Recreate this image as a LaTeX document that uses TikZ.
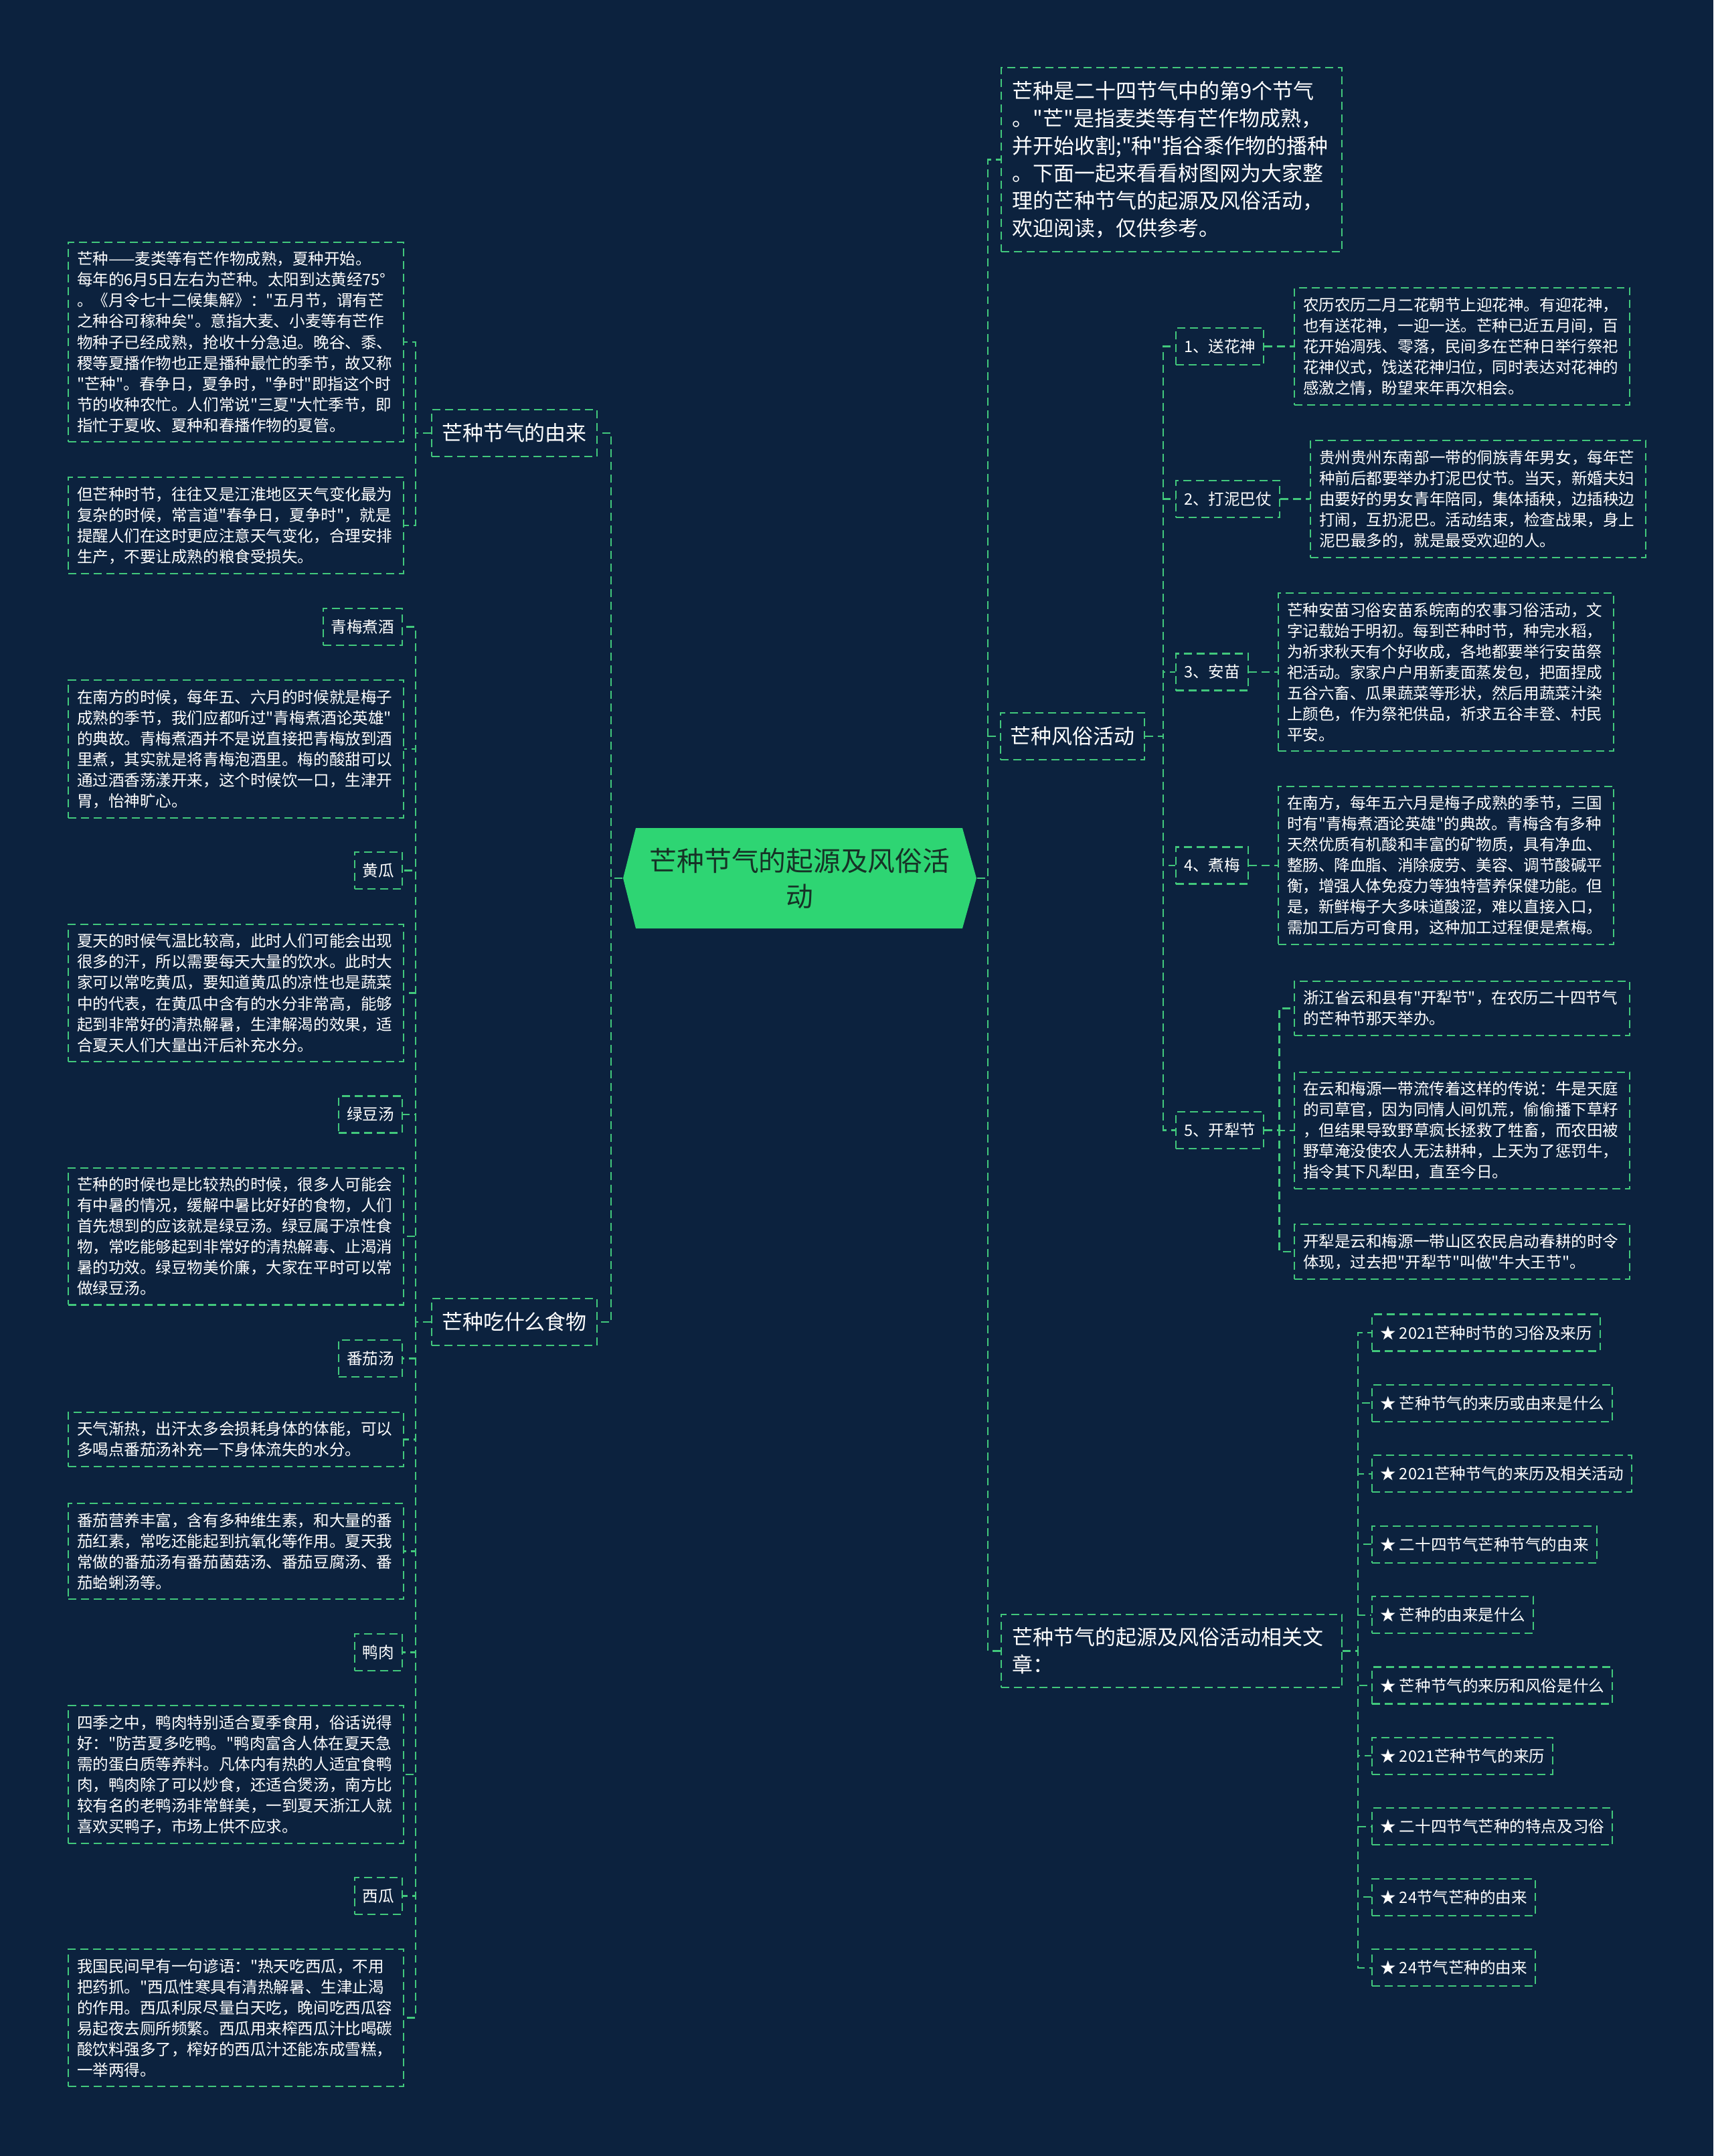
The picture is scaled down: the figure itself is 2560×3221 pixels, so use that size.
\documentclass[tikz,border=0pt]{standalone}
\usepackage{fontspec}
\newfontfamily\cjk{Noto Sans CJK SC}
\definecolor{bgcol}{RGB}{12,34,62}
\definecolor{lineg}{RGB}{66,200,124}
\definecolor{rootfill}{RGB}{46,213,115}
\definecolor{roottxt}{RGB}{22,50,38}
\tikzset{
  link/.style={draw=lineg,line width=0.6pt,dash pattern=on 3.4pt off 2pt},
  txtbox/.style={link,text=white,anchor=west,align=left,text width=4.75cm,inner xsep=0.13cm,inner ysep=0.14cm,font=\cjk\fontsize{6.7}{8.82}\selectfont},
  lbl/.style={link,text=white,inner xsep=0.12cm,inner ysep=0cm,minimum height=0.55cm,font=\cjk\fontsize{6.7}{8.82}\selectfont},
  topic/.style={link,text=white,inner xsep=0.15cm,inner ysep=0cm,minimum height=0.7cm,font=\cjk\fontsize{8.8}{11.67}\selectfont},
  bigbox/.style={link,text=white,align=left,text width=4.75cm,inner xsep=0.17cm,inner ysep=0.2cm,font=\cjk\fontsize{8.8}{11.67}\selectfont}
}
\begin{document}
\begin{tikzpicture}[x=0.01cm,y=-0.01cm]
\useasboundingbox (0,0) rectangle (2560,3221);
\fill[bgcol] (0,0) rectangle (2560,3221);
% centre
\fill[rootfill] (931,1312) -- (950,1237) -- (1438,1237) -- (1459,1312) -- (1438,1387) -- (950,1387) -- cycle;
\node[text=roottxt,align=center,minimum width=5.28cm,minimum height=1.5cm,inner sep=0pt,font=\cjk\fontsize{11.6}{15.1}\selectfont] (root) at (1195,1312) {芒种节气的起源及风俗活\\动};

% gauche : origine
\node[topic] (youlai) at (768.5,647) {芒种节气的由来};
\node[txtbox] (yl1) at (101,511) {芒种——麦类等有芒作物成熟，夏种开始。\\每年的6月5日左右为芒种。太阳到达黄经75°\\。《月令七十二候集解》："五月节，谓有芒\\之种谷可稼种矣"。意指大麦、小麦等有芒作\\物种子已经成熟，抢收十分急迫。晚谷、黍、\\稷等夏播作物也正是播种最忙的季节，故又称\\"芒种"。春争日，夏争时，"争时"即指这个时\\节的收种农忙。人们常说"三夏"大忙季节，即\\指忙于夏收、夏种和春播作物的夏管。};
\node[txtbox] (yl2) at (101,785) {但芒种时节，往往又是江淮地区天气变化最为\\复杂的时候，常言道"春争日，夏争时"，就是\\提醒人们在这时更应注意天气变化，合理安排\\生产，不要让成熟的粮食受损失。};

% gauche : nourriture
\node[topic] (shiwu) at (768.5,1975) {芒种吃什么食物};
\node[lbl,anchor=east] (qm) at (602,936.5) {青梅煮酒};
\node[txtbox] (qmt) at (101,1119) {在南方的时候，每年五、六月的时候就是梅子\\成熟的季节，我们应都听过"青梅煮酒论英雄"\\的典故。青梅煮酒并不是说直接把青梅放到酒\\里煮，其实就是将青梅泡酒里。梅的酸甜可以\\通过酒香荡漾开来，这个时候饮一口，生津开\\胃，怡神旷心。};
\node[lbl,anchor=east] (hg) at (602,1300.5) {黄瓜};
\node[txtbox] (hgt) at (101,1483.5) {夏天的时候气温比较高，此时人们可能会出现\\很多的汗，所以需要每天大量的饮水。此时大\\家可以常吃黄瓜，要知道黄瓜的凉性也是蔬菜\\中的代表，在黄瓜中含有的水分非常高，能够\\起到非常好的清热解暑，生津解渴的效果，适\\合夏天人们大量出汗后补充水分。};
\node[lbl,anchor=east] (ld) at (602,1665) {绿豆汤};
\node[txtbox] (ldt) at (101,1847) {芒种的时候也是比较热的时候，很多人可能会\\有中暑的情况，缓解中暑比好好的食物，人们\\首先想到的应该就是绿豆汤。绿豆属于凉性食\\物，常吃能够起到非常好的清热解毒、止渴消\\暑的功效。绿豆物美价廉，大家在平时可以常\\做绿豆汤。};
\node[lbl,anchor=east] (fq) at (602,2029.5) {番茄汤};
\node[txtbox] (fqt) at (101,2150.5) {天气渐热，出汗太多会损耗身体的体能，可以\\多喝点番茄汤补充一下身体流失的水分。};
\node[txtbox] (fqt2) at (101,2317.5) {番茄营养丰富，含有多种维生素，和大量的番\\茄红素，常吃还能起到抗氧化等作用。夏天我\\常做的番茄汤有番茄菌菇汤、番茄豆腐汤、番\\茄蛤蜊汤等。};
\node[lbl,anchor=east] (yr) at (602,2468.5) {鸭肉};
\node[txtbox] (yrt) at (101,2651) {四季之中，鸭肉特别适合夏季食用，俗话说得\\好："防苦夏多吃鸭。"鸭肉富含人体在夏天急\\需的蛋白质等养料。凡体内有热的人适宜食鸭\\肉，鸭肉除了可以炒食，还适合煲汤，南方比\\较有名的老鸭汤非常鲜美，一到夏天浙江人就\\喜欢买鸭子，市场上供不应求。};
\node[lbl,anchor=east] (xg) at (602,2832.5) {西瓜};
\node[txtbox] (xgt) at (101,3014.5) {我国民间早有一句谚语："热天吃西瓜，不用\\把药抓。"西瓜性寒具有清热解暑、生津止渴\\的作用。西瓜利尿尽量白天吃，晚间吃西瓜容\\易起夜去厕所频繁。西瓜用来榨西瓜汁比喝碳\\酸饮料强多了，榨好的西瓜汁还能冻成雪糕，\\一举两得。};

% droite
\node[bigbox] (intro) at (1750.5,238.5) {芒种是二十四节气中的第9个节气\\。"芒"是指麦类等有芒作物成熟，\\并开始收割;"种"指谷黍作物的播种\\。下面一起来看看树图网为大家整\\理的芒种节气的起源及风俗活动，\\欢迎阅读，仅供参考。};
\node[topic] (fengsu) at (1602.5,1100) {芒种风俗活动};
\node[bigbox] (xiangguan) at (1750.5,2466.5) {芒种节气的起源及风俗活动相关文\\章：};

\node[lbl,anchor=west] (ss1) at (1756,517.5) {1、送花神};
\node[txtbox] (ss1t) at (1933,517.5) {农历农历二月二花朝节上迎花神。有迎花神，\\也有送花神，一迎一送。芒种已近五月间，百\\花开始凋残、零落，民间多在芒种日举行祭祀\\花神仪式，饯送花神归位，同时表达对花神的\\感激之情，盼望来年再次相会。};
\node[lbl,anchor=west] (ss2) at (1756,745.5) {2、打泥巴仗};
\node[txtbox] (ss2t) at (1957,745.5) {贵州贵州东南部一带的侗族青年男女，每年芒\\种前后都要举办打泥巴仗节。当天，新婚夫妇\\由要好的男女青年陪同，集体插秧，边插秧边\\打闹，互扔泥巴。活动结束，检查战果，身上\\泥巴最多的，就是最受欢迎的人。};
\node[lbl,anchor=west] (ss3) at (1756,1004) {3、安苗};
\node[txtbox] (ss3t) at (1909,1004) {芒种安苗习俗安苗系皖南的农事习俗活动，文\\字记载始于明初。每到芒种时节，种完水稻，\\为祈求秋天有个好收成，各地都要举行安苗祭\\祀活动。家家户户用新麦面蒸发包，把面捏成\\五谷六畜、瓜果蔬菜等形状，然后用蔬菜汁染\\上颜色，作为祭祀供品，祈求五谷丰登、村民\\平安。};
\node[lbl,anchor=west] (ss4) at (1756,1293) {4、煮梅};
\node[txtbox] (ss4t) at (1909,1293) {在南方，每年五六月是梅子成熟的季节，三国\\时有"青梅煮酒论英雄"的典故。青梅含有多种\\天然优质有机酸和丰富的矿物质，具有净血、\\整肠、降血脂、消除疲劳、美容、调节酸碱平\\衡，增强人体免疫力等独特营养保健功能。但\\是，新鲜梅子大多味道酸涩，难以直接入口，\\需加工后方可食用，这种加工过程便是煮梅。};
\node[lbl,anchor=west] (ss5) at (1756,1688.5) {5、开犁节};
\node[txtbox] (ss5a) at (1933,1506.5) {浙江省云和县有"开犁节"，在农历二十四节气\\的芒种节那天举办。};
\node[txtbox] (ss5b) at (1933,1689) {在云和梅源一带流传着这样的传说：牛是天庭\\的司草官，因为同情人间饥荒，偷偷播下草籽\\，但结果导致野草疯长拯救了牲畜，而农田被\\野草淹没使农人无法耕种，上天为了惩罚牛，\\指令其下凡犁田，直至今日。};
\node[txtbox] (ss5c) at (1933,1870) {开犁是云和梅源一带山区农民启动春耕的时令\\体现，过去把"开犁节"叫做"牛大王节"。};

\foreach \txt [count=\i] in {★ 2021芒种时节的习俗及来历,★ 芒种节气的来历或由来是什么,★ 2021芒种节气的来历及相关活动,★ 二十四节气芒种节气的由来,★ 芒种的由来是什么,★ 芒种节气的来历和风俗是什么,★ 2021芒种节气的来历,★ 二十四节气芒种的特点及习俗,★ 24节气芒种的由来,★ 24节气芒种的由来}
  \node[lbl,anchor=west] (rel\i) at (2049,{1991+105.4*(\i-1)}) {\txt};

% liaisons
\draw[link] (root.west) -- ++(-17,0) |- (youlai.east);
\draw[link] (root.west) -- ++(-17,0) |- (shiwu.east);
\foreach \n in {intro,fengsu,xiangguan}
  \draw[link] (root.east) -- ++(16,0) |- (\n.west);
\foreach \n in {yl1,yl2}
  \draw[link] (youlai.west) -- ++(-23,0) |- (\n.east);
\foreach \n in {qm,qmt,hg,hgt,ld,ldt,fq,fqt,fqt2,yr,yrt,xg,xgt}
  \draw[link] (shiwu.west) -- ++(-23,0) |- (\n.east);
\foreach \n in {ss1,ss2,ss3,ss4,ss5}
  \draw[link] (fengsu.east) -- ++(27,0) |- (\n.west);
\foreach \n in {1,2,3,4}
  \draw[link] (ss\n.east) -- (ss\n.east -| ss\n t.west);
\foreach \n in {ss5a,ss5b,ss5c}
  \draw[link] (ss5.east) -- ++(22,0) |- (\n.west);
\foreach \i in {1,...,10}
  \draw[link] (xiangguan.east) -- ++(23,0) |- (rel\i.west);
\end{tikzpicture}
\end{document}
